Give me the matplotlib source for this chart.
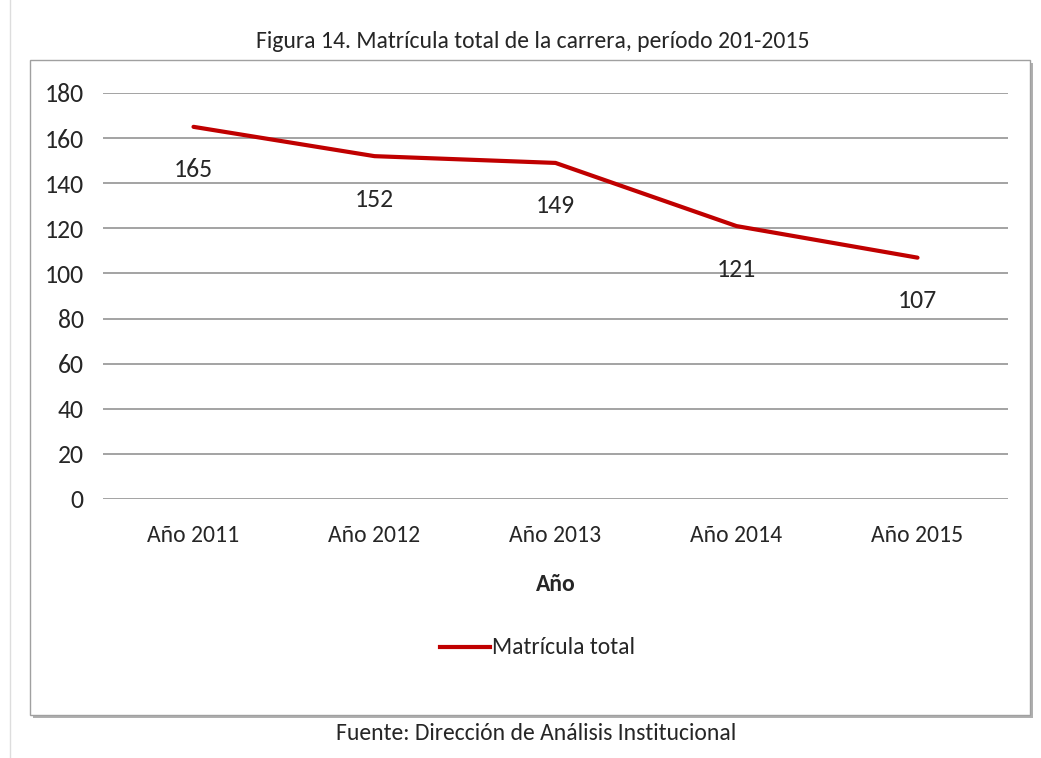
import matplotlib
matplotlib.use('Agg')
import matplotlib.pyplot as plt
from matplotlib.patches import Rectangle
from matplotlib.lines import Line2D

plt.rcParams['font.family'] = ['Carlito', 'Liberation Sans Narrow', 'Liberation Sans', 'DejaVu Sans']

years = ['Año 2011', 'Año 2012', 'Año 2013', 'Año 2014', 'Año 2015']
matricula = [165, 152, 149, 121, 107]
yticks = [0, 20, 40, 60, 80, 100, 120, 140, 160, 180]

W, H = 1041, 758
fig = plt.figure(figsize=(W / 100, H / 100), dpi=100)
txt = '#262626'

# page edge line and chart frame with shadow
fig.add_artist(Line2D([10 / W, 10 / W], [0, 1], color='#dddddd', lw=1, zorder=-3))
fig.add_artist(Rectangle((33 / W, 1 - 718 / H), 1000 / W, 655 / H,
                         facecolor='#b0b0b0', edgecolor='none', zorder=-2))
fig.add_artist(Rectangle((30 / W, 1 - 715 / H), 1000 / W, 655 / H,
                         facecolor='white', edgecolor='#a0a0a0', lw=1, zorder=-1))

ax = fig.add_axes([103 / W, 1 - 499 / H, 905 / W, 406 / H])
ax.set_facecolor('none')
x = range(len(years))
ax.plot(x, matricula, color='#c00000', lw=3, solid_capstyle='round', zorder=3)
for xi, v in zip(x, matricula):
    ax.annotate(str(v), (xi, v), xytext=(0, -31), textcoords='offset points',
                ha='center', va='center', fontsize=18.5, color=txt)

ax.set_xlim(-0.5, len(years) - 0.5)
ax.set_ylim(0, 180)
ax.set_yticks(yticks)
ax.set_xticks(list(x))
ax.set_xticklabels(years)
ax.grid(axis='y', color='#9c9c9c', lw=1.3)
ax.set_axisbelow(True)
for s in ax.spines.values():
    s.set_visible(False)
ax.tick_params(length=0, labelcolor=txt)
ax.tick_params(axis='y', pad=14, labelsize=18.5)
ax.tick_params(axis='x', pad=19, labelsize=17)
ax.set_xlabel('Año', fontsize=17, fontweight='bold', labelpad=20, color=txt)

fig.text(533 / W, 1 - 42 / H, 'Figura 14. Matrícula total de la carrera, período 201-2015',
         ha='center', va='center', fontsize=17, color=txt)
fig.add_artist(Line2D([440 / W, 490 / W], [1 - 647 / H, 1 - 647 / H], color='#c00000', lw=3))
fig.text(492 / W, 1 - 647 / H, 'Matrícula total', ha='left', va='center',
         fontsize=17, color=txt)
fig.text(536 / W, 1 - 733 / H, 'Fuente: Dirección de Análisis Institucional',
         ha='center', va='center', fontsize=17, color=txt)

fig.savefig('out.png', dpi=100)
